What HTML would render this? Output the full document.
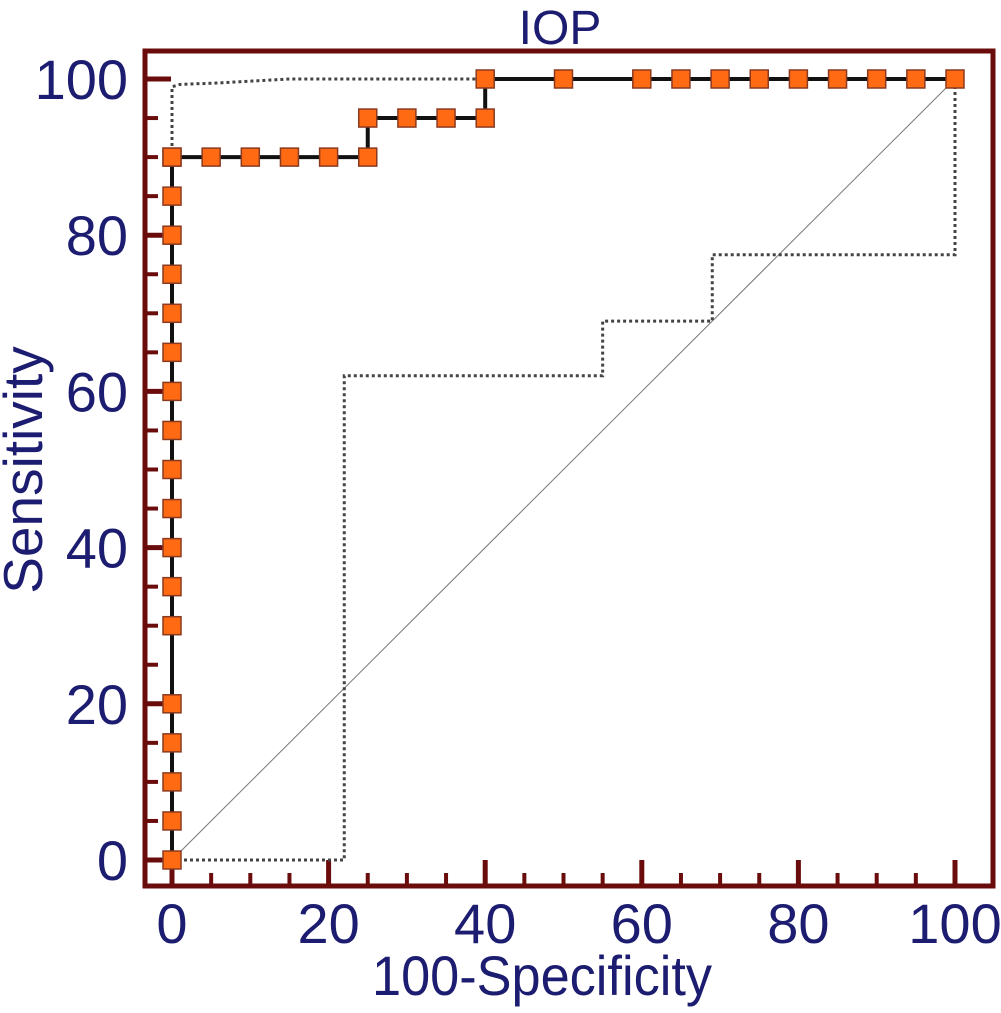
<!DOCTYPE html>
<html><head><meta charset="utf-8"><style>
html,body{margin:0;padding:0;background:#fff;}
svg{display:block;font-family:"Liberation Sans",Arial,sans-serif;}
</style></head><body>
<svg id="chart" width="1001" height="1013" viewBox="0 0 1001 1013">
<text x="560" y="44" font-size="48" fill="#1c1c70" text-anchor="middle">IOP</text>
<g id="axes"></g>
<g id="plot"></g>
<text x="542" y="995" font-size="56" fill="#1c1c70" text-anchor="middle" textLength="340" lengthAdjust="spacingAndGlyphs">100-Specificity</text>
<text x="0" y="0" font-size="55" fill="#1c1c70" text-anchor="middle" transform="translate(42,470) rotate(-90)">Sensitivity</text>
</svg>
<script>
const rocX = [0,0,0,0,0,0,0,0,0,0,0,0,0,0,0,0,0,0,0,5,10,15,20,25,25,30,35,40,40,50,60,65,70,75,80,85,90,95,100];
const rocY = [0,5,10,15,20,30,35,40,45,50,55,60,65,70,75,80,85,90,90,90,90,90,90,90,95,95,95,95,100,100,100,100,100,100,100,100,100,100,100];
const upperX = [0,0,1,6,15,40,100];
const upperY = [0,99,99.3,99.5,100,100,100];
const lowerX = [0,22,22,55,55,69,69,100,100];
const lowerY = [0,0,62,62,69,69,77.5,77.5,100];
const tickLabels = [0,20,40,60,80,100];

const NS='http://www.w3.org/2000/svg';
const sx = v => 172 + v*7.83;
const sy = v => 860 - v*7.81;
function mk(tag, attrs, parent){const e=document.createElementNS(NS,tag);for(const k in attrs)e.setAttribute(k,attrs[k]);parent.appendChild(e);return e;}
const axes=document.getElementById('axes'), plot=document.getElementById('plot');
const frame=mk('rect',{x:145,y:51,width:848,height:835,fill:'none',stroke:'#6a0c0c','stroke-width':5},axes);


for(let v=0;v<=100;v+=5){
  const major=v%20===0, len=major?26:13;
  const tx=mk('line',{x1:sx(v),x2:sx(v),y1:886,y2:886-len,stroke:'#6a0c0c','stroke-width':major?5:4},axes);
  
  
  const ty=mk('line',{x1:145,x2:145+len,y1:sy(v),y2:sy(v),stroke:'#6a0c0c','stroke-width':major?5:4},axes);
  
  
}
tickLabels.forEach(v=>{
  const a=mk('text',{x:sx(v),y:943,'font-size':56,fill:'#1c1c70','text-anchor':'middle'},axes);a.textContent=v;
  
  
  const b=mk('text',{x:128,y:sy(v)+20,'font-size':56,fill:'#1c1c70','text-anchor':'end'},axes);b.textContent=v;
  
  
});
const diag=mk('line',{x1:sx(0),y1:sy(0),x2:sx(100),y2:sy(100),stroke:'#777','stroke-width':1},plot);


function poly(xs,ys){return xs.map((x,i)=>sx(x)+','+sy(ys[i])).join(' ');}
const up=mk('polyline',{points:poly(upperX,upperY),fill:'none',stroke:'#444','stroke-width':3,'stroke-dasharray':'3 3'},plot);


const lo=mk('polyline',{points:poly(lowerX,lowerY),fill:'none',stroke:'#444','stroke-width':3,'stroke-dasharray':'3 3'},plot);


const roc=mk('polyline',{points:poly(rocX,rocY),fill:'none',stroke:'#111','stroke-width':4},plot);


rocX.forEach((x,i)=>{
  const r=mk('rect',{x:sx(x)-9,y:sy(rocY[i])-9,width:18,height:18,fill:'#ff6a12',stroke:'#8a3a20','stroke-width':1.5},plot);
  
  
});
</script>
</body></html>
